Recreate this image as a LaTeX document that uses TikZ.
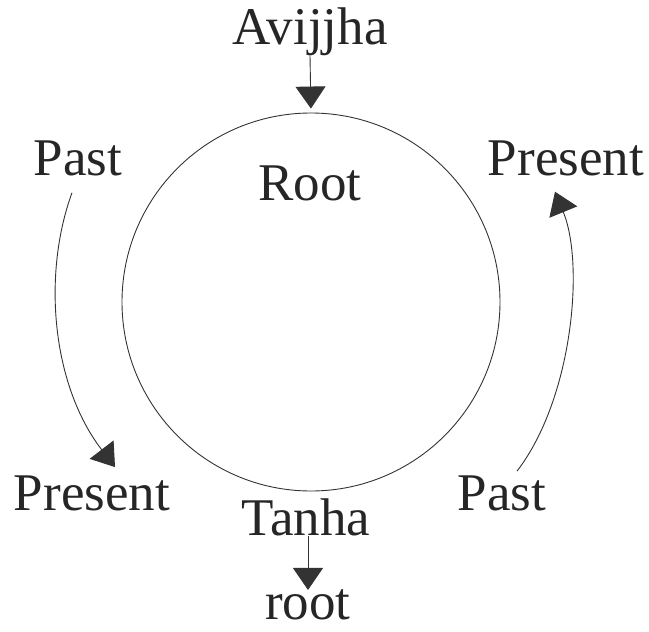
\documentclass[tikz,border=0pt]{standalone}
\usepackage{fontspec}
\setmainfont{Liberation Serif}
\usetikzlibrary{arrows.meta}
\begin{document}
\begin{tikzpicture}[x=1pt,y=-1pt,
  lbl/.style={inner sep=0pt,anchor=base,text=black!85,font=\fontsize{53}{62}\selectfont},
  arr/.style={draw=black!80,line width=0.9pt,-{Triangle[width=30pt,length=22pt]}},
  ring/.style={circle,draw=black!80,line width=0.9pt,minimum size=378pt,inner sep=0pt}]
\useasboundingbox (0,0) rectangle (649,632);
\node[ring] (circ) at (311,302) {};
\node[lbl] (avi) at (310,44) {Avijjha};
\node[lbl] (rt) at (310,200) {Root};
\node[lbl] (tan) at (306,535) {Tanha};
\node[lbl] (rootl) at (308,619) {root};
\node[lbl] (pastl) at (78,175) {Past};
\node[lbl] (presl) at (92,510) {Present};
\node[lbl] (presr) at (566,175) {Present};
\node[lbl] (pastr) at (502,510) {Past};
\draw[arr,shorten >=4pt] (avi.south) -- (circ.north);
\draw[arr] ([xshift=2pt,yshift=-1pt]tan.base) -- ([yshift=-1pt]rootl.north);
\draw[arr] ([xshift=-6pt,yshift=-17pt]pastl.south) .. controls (42,275) and (52,385) .. ([xshift=23pt,yshift=8pt]presl.north);
\draw[arr] ([xshift=15pt,yshift=4pt]pastr.north) .. controls (572,400) and (585,265) .. ([xshift=-11pt,yshift=-16pt]presr.south);
\end{tikzpicture}
\end{document}
